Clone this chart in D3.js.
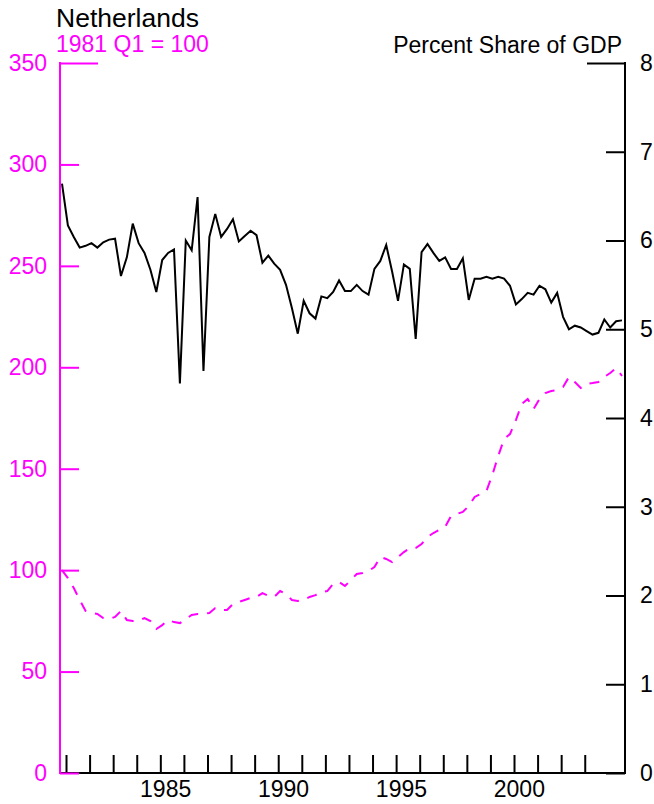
<!DOCTYPE html>
<html>
<head>
<meta charset="utf-8">
<script src="https://cdn.jsdelivr.net/npm/d3@7"></script>
<style>
  html, body { margin: 0; padding: 0; background: #fff; }
  svg { display: block; font-family: "Liberation Sans", Arial, sans-serif; }
</style>
</head>
<body>
<svg id="chart" width="654" height="804"></svg>
<script>
// ---- Data (quarterly, 1981 Q1 .. 2004 Q4) ----
const startYear = 1981;
const years = d3.range(1981, 2005);
const quarters = ["Q1", "Q2", "Q3", "Q4"];

// Percent share of GDP (right axis)
const shareGDP = [
  6.64, 6.17, 6.04, 5.92, 5.94, 5.97, 5.92, 5.98,
  6.01, 6.02, 5.60, 5.81, 6.19, 5.97, 5.86, 5.67,
  5.42, 5.78, 5.86, 5.90, 4.39, 6.00, 5.89, 6.49,
  4.53, 6.04, 6.30, 6.04, 6.13, 6.24, 5.99, 6.05,
  6.11, 6.06, 5.75, 5.83, 5.74, 5.67, 5.50, 5.24,
  4.95, 5.32, 5.18, 5.12, 5.37, 5.35, 5.42, 5.55,
  5.43, 5.43, 5.50, 5.43, 5.39, 5.68, 5.77, 5.95,
  5.65, 5.32, 5.73, 5.68, 4.89, 5.87, 5.96, 5.86,
  5.77, 5.81, 5.68, 5.68, 5.80, 5.33, 5.57, 5.57,
  5.59, 5.57, 5.59, 5.57, 5.49, 5.28, 5.34, 5.41,
  5.39, 5.49, 5.45, 5.30, 5.41, 5.14, 5.00, 5.04,
  5.02, 4.98, 4.94, 4.96, 5.11, 5.02, 5.09, 5.10
];

// Index, 1981 Q1 = 100 (left axis)
const indexValues = [
  100.0, 96.1, 91.2, 85.3, 79.9, 78.9, 78.4, 76.4,
  75.9, 76.9, 79.9, 75.4, 74.9, 74.9, 76.4, 74.9,
  71.0, 72.9, 75.4, 74.4, 73.9, 75.9, 77.9, 78.4,
  78.4, 78.9, 81.3, 80.4, 80.4, 83.3, 84.3, 85.3,
  86.3, 86.8, 88.7, 87.3, 86.8, 89.7, 88.2, 85.3,
  84.8, 85.3, 86.8, 87.7, 89.2, 89.7, 93.2, 94.2,
  92.2, 95.1, 98.1, 98.6, 99.6, 101.5, 106.5, 105.5,
  104.0, 106.5, 108.9, 110.9, 110.9, 112.9, 116.3, 118.3,
  119.8, 121.3, 126.7, 127.7, 128.7, 131.6, 136.1, 137.5,
  139.0, 146.9, 156.3, 164.6, 167.1, 174.0, 181.9, 184.4,
  179.4, 184.4, 187.3, 188.3, 188.8, 190.3, 195.2, 192.7,
  189.8, 191.8, 192.2, 192.7, 195.2, 197.2, 199.6, 195.7
];

const leftTicks = [0, 50, 100, 150, 200, 250, 300, 350];
const rightTicks = [0, 1, 2, 3, 4, 5, 6, 7, 8];
const xTickYears = d3.range(1981, 2004);
const xLabelYears = [1985, 1990, 1995, 2000];

const title = "Netherlands";
const leftTitle = "1981 Q1 = 100";
const rightTitle = "Percent Share of GDP";

// ---- Layout ----
const svg = d3.select("#chart");
const axL = 60, axR = 625, axTop = 63, axBot = 773;
const MAG = "#ff00ff";
const fs = 23;
const FONT = '"Liberation Sans", Arial, sans-serif';

const t = i => startYear + i / 4;
const x = d3.scaleLinear().domain([1981, 2004.75]).range([62, 622]);
const yL = d3.scaleLinear().domain([0, 350]).range([axBot, axTop]);
const yR = d3.scaleLinear().domain([0, 8]).range([axBot, axTop]);

// Bottom axis ticks
const gx = svg.append("g").attr("transform", `translate(0,${axBot})`)
  .call(d3.axisBottom(x).tickValues(xTickYears.map(y => y + 0.17))
    .tickSize(-18).tickFormat(""));
gx.select(".domain").remove();
gx.selectAll(".tick line").attr("stroke", "#000").attr("stroke-width", 2);

const gxl = svg.append("g").attr("transform", `translate(0,${axBot})`)
  .call(d3.axisBottom(x).tickValues(xLabelYears.map(y => y + 0.375))
    .tickSize(0).tickPadding(8).tickFormat((d, i) => xLabelYears[i]));
gxl.select(".domain").remove();
gxl.selectAll("text").attr("font-size", fs).attr("fill", "#000")
  .attr("font-family", FONT);

// bottom axis line
svg.append("line").attr("x1", axL).attr("x2", axR + 1).attr("y1", axBot).attr("y2", axBot)
  .attr("stroke", "#000").attr("stroke-width", 2);

// Left axis (magenta)
const gl = svg.append("g").attr("transform", `translate(${axL},0)`)
  .call(d3.axisLeft(yL).tickValues(leftTicks).tickSize(0).tickPadding(13));
gl.select(".domain").remove();
gl.selectAll("text").attr("font-size", fs).attr("fill", MAG)
  .attr("font-family", FONT);
gl.selectAll(".tick").append("line")
  .attr("x1", 0).attr("x2", d => d === 350 ? 38 : 19)
  .attr("y1", 0).attr("y2", 0)
  .attr("stroke", MAG).attr("stroke-width", 2);
svg.append("line").attr("x1", axL).attr("x2", axL).attr("y1", axTop - 1).attr("y2", axBot + 1)
  .attr("stroke", MAG).attr("stroke-width", 2);

// Right axis (black)
const gr = svg.append("g").attr("transform", `translate(${axR},0)`)
  .call(d3.axisRight(yR).tickValues(rightTicks).tickSize(0).tickPadding(15));
gr.select(".domain").remove();
gr.selectAll("text").attr("font-size", fs).attr("fill", "#000")
  .attr("font-family", FONT);
gr.selectAll(".tick").append("line")
  .attr("x1", 0).attr("x2", d => d === 8 ? -38 : -19)
  .attr("y1", 0).attr("y2", 0)
  .attr("stroke", "#000").attr("stroke-width", 2);
svg.append("line").attr("x1", axR).attr("x2", axR).attr("y1", axTop - 1).attr("y2", axBot + 1)
  .attr("stroke", "#000").attr("stroke-width", 2);

// Lines
const lineL = d3.line().x((d, i) => x(t(i))).y(d => yL(d));
const lineR = d3.line().x((d, i) => x(t(i))).y(d => yR(d));

svg.append("path").datum(indexValues)
  .attr("d", lineL).attr("fill", "none")
  .attr("stroke", MAG).attr("stroke-width", 2)
  .attr("stroke-dasharray", "10,9");

svg.append("path").datum(shareGDP)
  .attr("d", lineR).attr("fill", "none")
  .attr("stroke", "#000").attr("stroke-width", 2)
  .attr("stroke-linejoin", "miter");

// Titles
svg.append("text").attr("x", 56).attr("y", 27).attr("font-size", 26.5)
  .attr("font-family", FONT).attr("fill", "#000").text(title);
svg.append("text").attr("x", 56).attr("y", 52).attr("font-size", fs)
  .attr("font-family", FONT).attr("fill", MAG).text(leftTitle);
svg.append("text").attr("x", 622).attr("y", 53).attr("font-size", fs)
  .attr("font-family", FONT).attr("text-anchor", "end").attr("fill", "#000").text(rightTitle);
</script>
</body>
</html>
